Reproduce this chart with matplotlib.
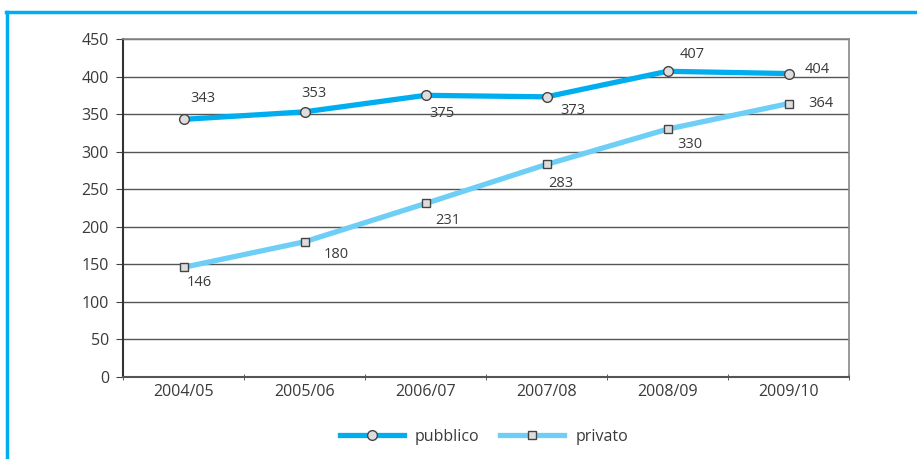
import matplotlib.pyplot as plt
from matplotlib.lines import Line2D

plt.rcParams['font.family'] = ['Open Sans', 'DejaVu Sans']

years = ['2004/05', '2005/06', '2006/07', '2007/08', '2008/09', '2009/10']
pubblico = [343, 353, 375, 373, 407, 404]
privato = [146, 180, 231, 283, 330, 364]

# label offsets in points (dx, dy) for each value label
pub_offsets = [(14, 15), (7, 13), (12, -13), (19, -10), (18, 12), (21, 3)]
pri_offsets = [(11, -11), (23, -9), (16, -12), (10, -14), (16, -11), (23, 0)]

C_PUB = '#00aeef'
C_PRI = '#6dcff6'
TXT = '#3a3a3a'

fig = plt.figure(figsize=(9.17, 4.59), dpi=100)
ax = fig.add_axes([123 / 917, 1 - 377 / 459, 726 / 917, 338 / 459])

x = list(range(len(years)))
ax.plot(x, pubblico, color=C_PUB, lw=3.8, marker='o', ms=7,
        mfc='#dddddd', mec='#444444', mew=1, zorder=4, solid_capstyle='butt')
ax.plot(x, privato, color=C_PRI, lw=3.8, marker='s', ms=6,
        mfc='#dddddd', mec='#444444', mew=1, zorder=4, solid_capstyle='butt')

for xi, v, (dx, dy) in zip(x, pubblico, pub_offsets):
    ax.annotate(str(v), (xi, v), xytext=(dx, dy), textcoords='offset points',
                ha='center', va='center', fontsize=10.5, color=TXT)
for xi, v, (dx, dy) in zip(x, privato, pri_offsets):
    ax.annotate(str(v), (xi, v), xytext=(dx, dy), textcoords='offset points',
                ha='center', va='center', fontsize=10.5, color=TXT)

ax.set_xlim(-0.5, len(years) - 0.5)
ax.set_ylim(0, 450)
ax.set_yticks(range(0, 451, 50))
ax.yaxis.grid(True, color='#555555', lw=1)
ax.set_axisbelow(True)

ax.set_xticks(x)
ax.set_xticklabels(years)
ax.set_xticks([i - 0.5 for i in range(len(years) + 1)], minor=True)
ax.tick_params(axis='x', which='major', length=0, pad=5, labelsize=11.5, labelcolor=TXT)
ax.tick_params(axis='x', which='minor', length=4, direction='inout', color='#444444')
ax.tick_params(axis='y', length=5, color='#444444', labelsize=11.5, labelcolor=TXT, pad=5)

for side in ['top', 'right']:
    ax.spines[side].set_color('#888888')
    ax.spines[side].set_linewidth(1.2)
ax.spines['left'].set_color('#333333')
ax.spines['left'].set_linewidth(1.5)
ax.spines['bottom'].set_color('#555555')
ax.spines['bottom'].set_linewidth(1.5)

handles = [
    Line2D([], [], color=C_PUB, lw=3.8, marker='o', ms=7, mfc='#dddddd', mec='#444444', mew=1),
    Line2D([], [], color=C_PRI, lw=3.8, marker='s', ms=6, mfc='#dddddd', mec='#444444', mew=1),
]
fig.legend(handles, ['pubblico', 'privato'], loc='center', bbox_to_anchor=(484 / 917, 1 - 437 / 459),
           ncol=2, frameon=False, fontsize=11.5, handlelength=4, columnspacing=1.3,
           labelcolor=TXT, handletextpad=0.7)

# frame around the chart (left and top edges)
fig.add_artist(Line2D([7 / 917, 7 / 917], [0, 1 - 12 / 459], color=C_PUB, lw=2.5,
                      transform=fig.transFigure))
fig.add_artist(Line2D([6 / 917, 1], [1 - 12 / 459, 1 - 12 / 459], color=C_PUB, lw=2.5,
                      transform=fig.transFigure))

fig.savefig('out.png', dpi=100)
